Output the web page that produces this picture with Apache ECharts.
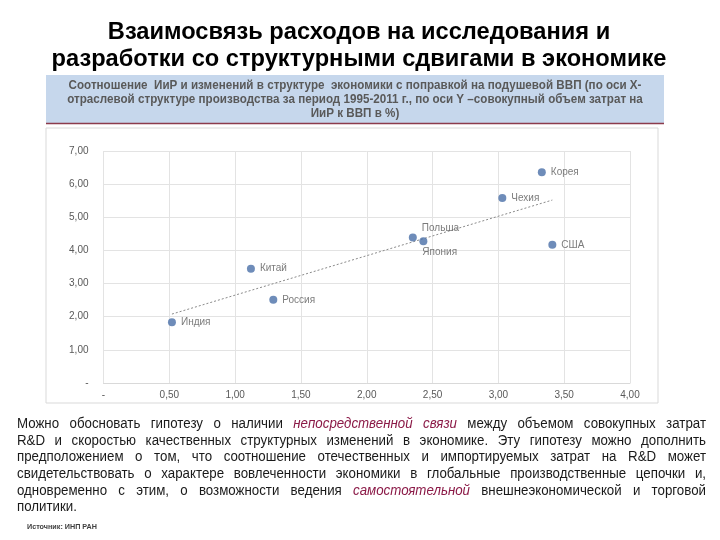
<!DOCTYPE html>
<html><head><meta charset="utf-8">
<script src="https://cdn.jsdelivr.net/npm/echarts@6/dist/echarts.min.js"></script>
<style>html,body{margin:0;padding:0;background:#fff}#c{width:720px;height:540px}</style>
</head><body><div id="c"></div>
<script>
// ---- data ----
const countries = ['Индия','Китай','Россия','Польша','Япония','Чехия','Корея','США'];
const xValues = [0.52, 1.12, 1.29, 2.35, 2.43, 3.03, 3.33, 3.41];
const yValues = [1.83, 3.45, 2.51, 4.39, 4.28, 5.58, 6.36, 4.17];
const trendX = [0.52, 3.41];
const trendY = [2.08, 5.52];
const xTicks = [0, 0.5, 1, 1.5, 2, 2.5, 3, 3.5, 4];
const yTicks = [0, 1, 2, 3, 4, 5, 6, 7];
const titleLines = ['Взаимосвязь расходов на исследования и', 'разработки со структурными сдвигами в экономике'];
const boxLines = [
  'Соотношение  ИиР и изменений в структуре  экономики с поправкой на подушевой ВВП (по оси X-',
  'отраслевой структуре производства за период 1995-2011 г., по оси Y –совокупный объем затрат на',
  'ИиР к ВВП в %)'
];
// words prefixed with * are italic accent
const paraLines = [
  'Можно обосновать гипотезу о наличии *непосредственной *связи между объемом совокупных затрат',
  'R&D и скоростью качественных структурных изменений в экономике. Эту гипотезу можно дополнить',
  'предположением о том, что соотношение отечественных и импортируемых затрат на R&D может',
  'свидетельствовать о характере вовлеченности экономики в глобальные производственные цепочки и,',
  'одновременно с этим, о возможности ведения *самостоятельной внешнеэкономической и торговой',
  'политики.'
];
const sourceText = 'Источник: ИНП РАН';

// ---- styles ----
const labelStyle = {
  'Польша': {position: 'right', offset: [0, -9]},
  'Япония': {position: 'right', offset: [-10, 11]}
};
const fmt = v => v === 0 ? '-' : v.toFixed(2).replace('.', ',');
const SANS = "'Liberation Sans',Arial,sans-serif";

const canvas = document.createElement('canvas');
const ctx = canvas.getContext('2d');
function measure(text, font) { ctx.font = font; return ctx.measureText(text).width; }

const graphics = [];
graphics.push({type: 'rect', shape: {x: 46, y: 128, width: 612, height: 275}, style: {fill: '#fff', stroke: '#d9d9d9', lineWidth: 1}, z: -10});
titleLines.forEach((t, i) => graphics.push({type: 'text', x: 359, y: 32 + i * 27, scaleX: 0.985,
  style: {text: t, font: 'bold 24px ' + SANS, fill: '#000', textAlign: 'center', textVerticalAlign: 'middle', verticalAlign: 'middle'}}));
graphics.push({type: 'rect', shape: {x: 46, y: 75, width: 618, height: 48}, style: {fill: '#c6d7ec'}});
graphics.push({type: 'line', shape: {x1: 46, y1: 123.5, x2: 664, y2: 123.5}, style: {stroke: '#8c3b4c', lineWidth: 1.5}});
boxLines.forEach((t, i) => graphics.push({type: 'text', x: 355, y: 86 + i * 14, scaleX: 0.97,
  style: {text: t, font: 'bold 12px ' + SANS, fill: '#595959', textAlign: 'center', textVerticalAlign: 'middle', verticalAlign: 'middle'}}));

const SX = 0.95;
const pFont = '14px ' + SANS;
const pFontI = 'italic 14px ' + SANS;
const left = 17, right = 706;
paraLines.forEach((line, li) => {
  const words = line.split(' ').map(w => w.startsWith('*') ? {t: w.slice(1), it: true} : {t: w, it: false});
  words.forEach(w => w.w = measure(w.t, w.it ? pFontI : pFont) * SX);
  const total = words.reduce((s, w) => s + w.w, 0);
  const last = li === paraLines.length - 1;
  const gap = last ? measure(' ', pFont) * SX : (right - left - total) / (words.length - 1);
  let x = left;
  const y = 424 + li * 16.7;
  words.forEach(w => {
    graphics.push({type: 'text', x: x, y: y, scaleX: SX,
      style: {text: w.t, font: w.it ? pFontI : pFont, fill: w.it ? '#8b1a47' : '#1a1a1a', textAlign: 'left', textVerticalAlign: 'middle', verticalAlign: 'middle'}});
    x += w.w + gap;
  });
});
graphics.push({type: 'text', x: 27, y: 527, scaleX: 0.9, style: {text: sourceText, font: 'bold 8px ' + SANS, fill: '#404040', textVerticalAlign: 'middle', verticalAlign: 'middle'}});

const chart = echarts.init(document.getElementById('c'), null, {renderer: 'canvas'});
chart.setOption({
  backgroundColor: '#fff',
  animation: false,
  graphic: graphics,
  grid: {left: 103.5, right: 90, top: 151, bottom: 157},
  xAxis: {type: 'value', min: xTicks[0], max: xTicks[xTicks.length - 1], interval: 0.5,
    axisLine: {show: true, lineStyle: {color: '#d9d9d9'}}, axisTick: {show: false},
    axisLabel: {formatter: fmt, color: '#595959', fontSize: 10, fontFamily: SANS, margin: 7},
    splitLine: {show: true, lineStyle: {color: '#e3e3e3'}}},
  yAxis: {type: 'value', min: yTicks[0], max: yTicks[yTicks.length - 1], interval: 1,
    axisLine: {show: false}, axisTick: {show: false},
    axisLabel: {formatter: fmt, color: '#595959', fontSize: 10, fontFamily: SANS, margin: 15},
    splitLine: {show: true, lineStyle: {color: '#e3e3e3'}}},
  series: [
    {type: 'line', data: trendX.map((x, i) => [x, trendY[i]]), symbol: 'none', silent: true,
      lineStyle: {type: [2, 2], color: '#8a8a8a', width: 1}, z: 1},
    {type: 'scatter', symbolSize: 8, itemStyle: {color: '#4a6fa8'}, z: 3,
      data: countries.map((c, i) => {
        const ls = labelStyle[c] || {};
        return {name: c, value: [xValues[i], yValues[i]],
          label: {show: true, formatter: c, position: ls.position || 'right', offset: ls.offset || [0, 0], distance: 5,
            color: '#595959', fontSize: 10, fontFamily: SANS}};
      })}
  ]
});
</script></body></html>
